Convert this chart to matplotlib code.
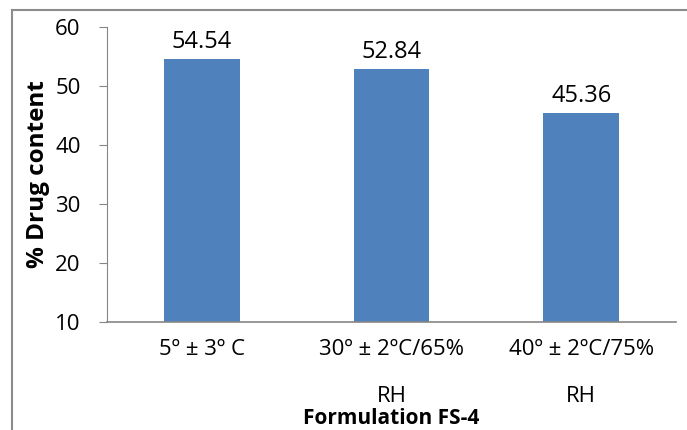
import matplotlib.pyplot as plt
from matplotlib.lines import Line2D

plt.rcParams['font.family'] = ['Open Sans', 'DejaVu Sans']

# stability data for formulation FS-4
conditions = ["5º ± 3º C", "30º ± 2ºC/65%\nRH", "40º ± 2ºC/75%\nRH"]
drug_content = [54.54, 52.84, 45.36]
y_ticks = [10, 20, 30, 40, 50, 60]

fig = plt.figure(figsize=(6.87, 4.30), dpi=100)
ax = fig.add_axes([107 / 687, 1 - 322 / 430, (676 - 107) / 687, (322 - 27) / 430])

x = range(len(conditions))
bars = ax.bar(x, drug_content, width=0.4, color="#4F81BD", bottom=0)
ax.set_ylim(10, 60)
ax.set_xlim(-0.5, 2.5)
ax.set_yticks(y_ticks)
ax.set_xticks(list(x))
ax.set_xticklabels(conditions, fontsize=16, linespacing=2.65, va="top")

for b, v in zip(bars, drug_content):
    ax.annotate(f"{v:.2f}", (b.get_x() + b.get_width() / 2, v),
                xytext=(0, 4), textcoords="offset points",
                ha="center", va="bottom", fontsize=17)

ax.tick_params(axis="y", labelsize=16, length=6, color="#868686", pad=13)
ax.tick_params(axis="x", length=0, pad=12)
for s in ["top", "right"]:
    ax.spines[s].set_visible(False)
for s in ["left", "bottom"]:
    ax.spines[s].set_color("#868686")
ax.spines["bottom"].set_linewidth(1.2)

ax.set_ylabel("% Drug content", fontsize=17.5, fontweight="bold")
ax.yaxis.set_label_coords(-0.1, 0.5)
ax.set_xlabel("Formulation FS-4", fontsize=15, fontweight="bold")
ax.xaxis.set_label_coords(0.5, -0.29)

# outer chart border (left and top edges)
fig.add_artist(Line2D([12 / 687, 12 / 687], [0, 1 - 10 / 430],
                      transform=fig.transFigure, color="#8c8c8c", lw=1.5))
fig.add_artist(Line2D([12 / 687, 1], [1 - 10 / 430, 1 - 10 / 430],
                      transform=fig.transFigure, color="#8c8c8c", lw=1.5))

fig.savefig("out.png", dpi=100)
